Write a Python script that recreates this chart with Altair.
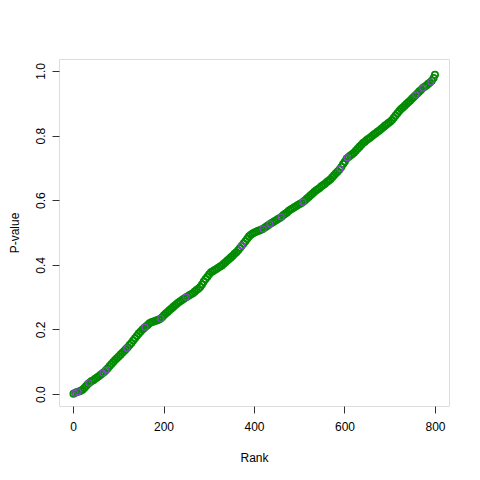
import altair as alt
import pandas as pd

# Sorted p-values (every 4th rank, plus the last point)
ranks = list(range(1, 798, 4)) + [800]
pvals = [
    0.001, 0.004, 0.006, 0.008, 0.010, 0.013, 0.019, 0.025, 0.031, 0.036,
    0.040, 0.043, 0.047, 0.051, 0.055, 0.060, 0.064, 0.068, 0.074, 0.080,
    0.087, 0.093, 0.099, 0.105, 0.111, 0.116, 0.122, 0.128, 0.133, 0.139,
    0.145, 0.152, 0.158, 0.166, 0.173, 0.180, 0.187, 0.193, 0.199, 0.204,
    0.209, 0.214, 0.219, 0.222, 0.224, 0.226, 0.228, 0.230, 0.233, 0.238,
    0.244, 0.249, 0.254, 0.259, 0.264, 0.269, 0.274, 0.279, 0.283, 0.287,
    0.291, 0.295, 0.299, 0.302, 0.306, 0.309, 0.312, 0.317, 0.322, 0.326,
    0.331, 0.339, 0.348, 0.356, 0.363, 0.371, 0.377, 0.380, 0.384, 0.387,
    0.391, 0.395, 0.398, 0.403, 0.408, 0.413, 0.418, 0.423, 0.428, 0.434,
    0.439, 0.445, 0.452, 0.459, 0.466, 0.473, 0.481, 0.488, 0.493, 0.497,
    0.500, 0.502, 0.505, 0.507, 0.509, 0.512, 0.516, 0.520, 0.524, 0.528,
    0.531, 0.535, 0.538, 0.542, 0.545, 0.549, 0.554, 0.558, 0.562, 0.567,
    0.571, 0.574, 0.578, 0.581, 0.585, 0.588, 0.591, 0.595, 0.600, 0.605,
    0.610, 0.615, 0.620, 0.625, 0.630, 0.634, 0.638, 0.643, 0.647, 0.651,
    0.656, 0.660, 0.665, 0.671, 0.677, 0.683, 0.689, 0.695, 0.703, 0.712,
    0.720, 0.729, 0.734, 0.738, 0.742, 0.747, 0.753, 0.759, 0.765, 0.771,
    0.777, 0.781, 0.786, 0.790, 0.794, 0.799, 0.803, 0.807, 0.812, 0.816,
    0.820, 0.825, 0.830, 0.834, 0.839, 0.843, 0.848, 0.855, 0.862, 0.869,
    0.876, 0.882, 0.887, 0.892, 0.898, 0.903, 0.908, 0.914, 0.919, 0.925,
    0.930, 0.936, 0.941, 0.947, 0.951, 0.955, 0.960, 0.964, 0.970, 0.978,
    0.988,
]

# Highlighted (purple) points
hl_ranks = [4, 11, 35, 66, 73, 119, 159, 194, 250, 373, 420, 435, 460, 508,
            590, 606, 758, 773, 791]
hl_pvals = [0.003, 0.007, 0.034, 0.065, 0.074, 0.142, 0.207, 0.234, 0.300,
            0.459, 0.511, 0.526, 0.548, 0.594, 0.697, 0.731, 0.926, 0.947,
            0.966]

x_ticks = [0, 200, 400, 600, 800]
y_ticks = [0.0, 0.2, 0.4, 0.6, 0.8, 1.0]

df = pd.DataFrame({"Rank": ranks, "P": pvals})
dh = pd.DataFrame({"Rank": hl_ranks, "P": hl_pvals})

xscale = alt.Scale(domain=[-31, 831], nice=False, zero=False)
yscale = alt.Scale(domain=[-0.037, 1.037], nice=False, zero=False)

xaxis = alt.Axis(values=x_ticks, title="Rank", grid=False, domain=False,
                 tickColor="#333333", tickSize=7, labelFontSize=12,
                 labelColor="black", labelPadding=8, labelFont="Liberation Sans",
                 titleFont="Liberation Sans", titleFontSize=12,
                 titleFontWeight="normal", titleColor="black",
                 titleY=51, titleBaseline="middle", labelFlush=False)
yaxis = alt.Axis(values=y_ticks, title="P-value", grid=False, domain=False,
                 format=".1f", tickColor="#333333", tickSize=7,
                 labelFontSize=12, labelColor="black", labelAngle=270,
                 labelAlign="center", labelBaseline="bottom", labelPadding=5,
                 labelFont="Liberation Sans", titleFont="Liberation Sans",
                 titleFontSize=12, titleFontWeight="normal", titleColor="black",
                 titleX=-45, titleBaseline="middle", labelFlush=False)

base = alt.Chart(df).mark_point(shape="circle", filled=False, size=40,
                                strokeWidth=1.7, color="#008B00", opacity=1).encode(
    x=alt.X("Rank:Q", scale=xscale, axis=xaxis),
    y=alt.Y("P:Q", scale=yscale, axis=yaxis),
)

hl = alt.Chart(dh).mark_point(shape="circle", filled=False, size=36,
                              strokeWidth=1.1, color="#8B45D0", opacity=1).encode(
    x=alt.X("Rank:Q", scale=xscale),
    y=alt.Y("P:Q", scale=yscale),
)

chart = alt.layer(base, hl).properties(
    width=390, height=347,
    autosize=alt.AutoSizeParams(type="none"),
    padding={"left": 51, "top": 51, "right": 23, "bottom": 66},
).configure_view(stroke="black", strokeWidth=1).configure(background="white")

chart.save("out.html", embed_options={"renderer": "svg", "actions": False})
